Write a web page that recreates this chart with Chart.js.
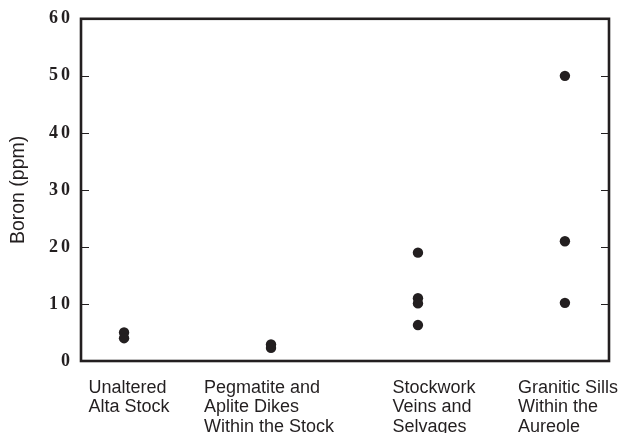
<!DOCTYPE html>
<html>
<head>
<meta charset="utf-8">
<script src="https://cdn.jsdelivr.net/npm/chart.js@4/dist/chart.umd.min.js"></script>
<style>
  html, body { margin: 0; padding: 0; background: #fff; }
  #wrap { width: 618px; height: 433px; position: relative; }
</style>
</head>
<body>
<div id="wrap"><canvas id="chart"></canvas></div>
<script>
// Rock groups along the x axis (multi-line labels)
const categories = [
  ["Unaltered", "Alta Stock"],
  ["Pegmatite and", "Aplite Dikes", "Within the Stock"],
  ["Stockwork", "Veins and", "Selvages"],
  ["Granitic Sills", "Within the", "Aureole"]
];

// Boron content (ppm) of each sample, per group
const unalteredStock = [5, 4];
const pegmatiteDikes = [2.9, 2.3];
const stockworkVeins = [19, 11, 10.1, 6.3];
const graniticSills = [50, 21, 10.2];

// Y axis tick values
const yTickValues = [0, 10, 20, 30, 40, 50, 60];

const groups = [unalteredStock, pegmatiteDikes, stockworkVeins, graniticSills];
const points = [];
groups.forEach((vals, i) => vals.forEach(v => points.push({ x: i + 1, y: v })));

const INK = '#231f20';

// Frame, inward tick marks and left-aligned category labels
const framePlugin = {
  id: 'frame',
  beforeDatasetsDraw(chart) {
    const { ctx, chartArea: a, scales: { y } } = chart;
    ctx.save();
    ctx.strokeStyle = INK;
    ctx.lineWidth = 1.2;
    y.ticks.forEach(t => {
      if (t.value <= y.min || t.value >= y.max) return;
      const py = Math.round(y.getPixelForValue(t.value)) + 0.5;
      ctx.beginPath();
      ctx.moveTo(a.left, py); ctx.lineTo(a.left + 8, py);
      ctx.moveTo(a.right - 8, py); ctx.lineTo(a.right, py);
      ctx.stroke();
    });
    ctx.lineWidth = 2.6;
    ctx.strokeRect(a.left, a.top, a.right - a.left, a.bottom - a.top);
    ctx.restore();
  },
  afterDatasetsDraw(chart) {
    // y tick labels (drawn in a later layer) get a little tracking
    chart.ctx.letterSpacing = '3px';
  },
  afterDraw(chart, args, opts) {
    const { ctx, chartArea: a, scales: { x } } = chart;
    ctx.letterSpacing = '0px';
    ctx.save();
    ctx.fillStyle = INK;
    ctx.font = '18px "Liberation Sans", Arial, sans-serif';
    ctx.textAlign = 'left';
    ctx.textBaseline = 'alphabetic';
    categories.forEach((lines, i) => {
      const cx = x.getPixelForValue(i + 1) + (opts.shift[i] || 0);
      const w = Math.max(...lines.map(l => ctx.measureText(l).width));
      lines.forEach((l, j) => {
        ctx.fillText(l, cx - w / 2, a.bottom + 32 + j * 19.3);
      });
    });
    ctx.restore();
  }
};

new Chart(document.getElementById('chart'), {
  type: 'scatter',
  data: {
    datasets: [{
      data: points,
      pointRadius: 5.2,
      pointHoverRadius: 5.2,
      pointBackgroundColor: INK,
      pointBorderColor: INK,
      pointBorderWidth: 0
    }]
  },
  options: {
    responsive: true,
    maintainAspectRatio: false,
    animation: false,
    events: [],
    layout: { padding: { top: 18, right: 9, left: 0, bottom: 0 } },
    plugins: {
      legend: { display: false },
      tooltip: { enabled: false },
      frame: { shift: [5, -2, 16, 3] }
    },
    scales: {
      x: {
        type: 'linear',
        min: 0.707,
        max: 4.3,
        grid: { display: false },
        border: { display: false },
        ticks: { display: false },
        afterFit(s) { s.height = 72; }
      },
      y: {
        min: 0,
        max: 60,
        afterBuildTicks(s) { s.ticks = yTickValues.map(v => ({ value: v })); },
        grid: { display: false, drawTicks: false },
        border: { display: false },
        ticks: {
          z: 1,
          padding: 8,
          color: INK,
          font: { family: '"Liberation Serif", "Times New Roman", serif', size: 18, weight: 'bold' }
        },
        title: {
          display: true,
          text: 'Boron (ppm)',
          color: INK,
          padding: { top: 7, bottom: 0 },
          font: { family: '"Liberation Sans", Arial, sans-serif', size: 19.5 }
        },
        afterFit(s) { s.width = 81; }
      }
    }
  },
  plugins: [framePlugin]
});
</script>
</body>
</html>
